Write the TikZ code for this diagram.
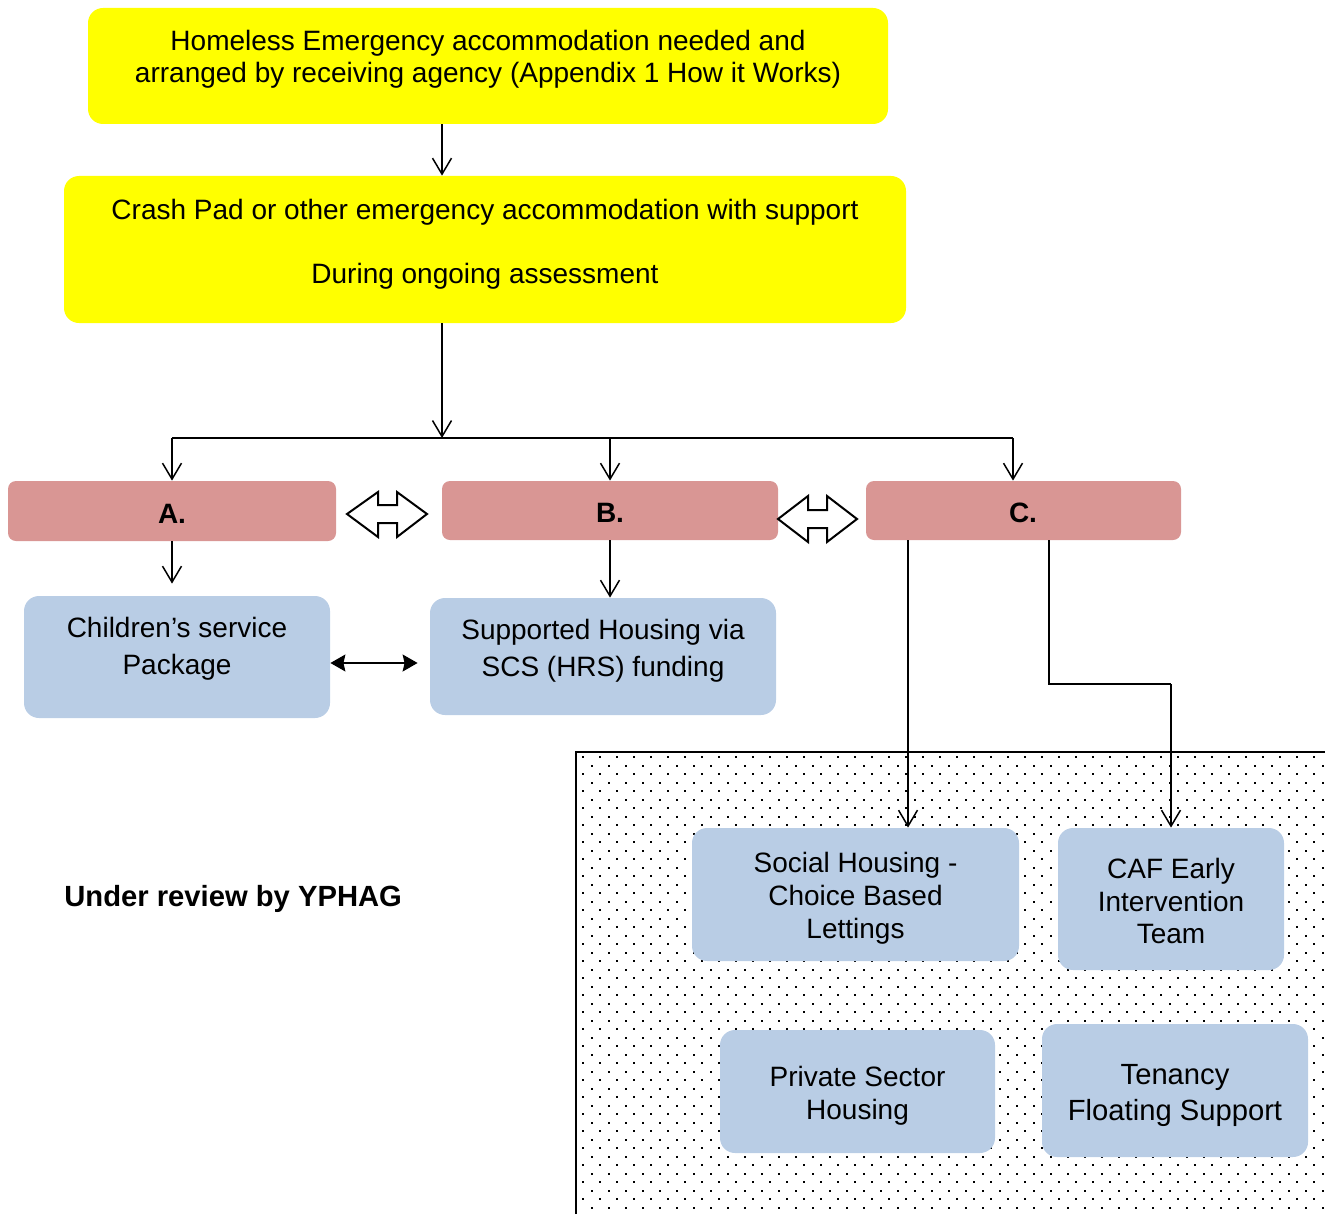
\documentclass[tikz,border=0pt]{standalone}
\usepackage{fontspec}
\setmainfont{Liberation Sans}
\usetikzlibrary{arrows.meta}
\definecolor{ylw}{HTML}{FFFF00}
\definecolor{pnk}{HTML}{D99694}
\definecolor{lblue}{HTML}{B9CDE5}
\begin{document}
\begin{tikzpicture}[x=0.5pt,y=-0.5pt,
  font=\fontsize{14}{16.1}\selectfont,
  ybox/.style={fill=ylw, rounded corners=7.5pt, inner sep=0pt},
  pbox/.style={fill=pnk, rounded corners=4pt, inner sep=0pt},
  bbox/.style={fill=lblue, rounded corners=7.5pt, inner sep=0pt},
  txt/.style={align=center, inner sep=0pt},
  btxt/.style={align=center, inner sep=0pt, font=\fontsize{14}{16.1}\selectfont\bfseries},
  arr/.style={-{Straight Barb[length=8pt,width=9.5pt]}, line width=0.75pt},
  dbl/.style={{Stealth[length=7.5pt,width=8.5pt,inset=1pt]}-{Stealth[length=7.5pt,width=8.5pt,inset=1pt]}, line width=0.75pt},
  blockarrow/.style={draw, fill=white, line width=1pt, line join=miter}]
\useasboundingbox (0,0) rectangle (1325,1214);

% dotted area
\begin{scope}
  \clip (576,752) rectangle (1325,1214);
  \foreach \r in {0,...,54}{
    \pgfmathsetmacro{\yy}{756+8.5*\r}
    \pgfmathsetmacro{\xo}{582+8.5*mod(\r,2)}
    \foreach \c in {0,...,44}{
      \fill ({\xo+17*\c},\yy) rectangle ++(2,2);
    }
  }
\end{scope}
\draw[line width=1pt] (576,1214) -- (576,752) -- (1325,752);

% boxes
\node[ybox, minimum width=400pt, minimum height=58pt] (b1) at (488,66) {};
\node[txt] (b1t) at (488,59) {Homeless Emergency accommodation needed and\\arranged by receiving agency (Appendix 1 How it Works)};
\node[ybox, minimum width=421pt, minimum height=73.5pt] (b2) at (485,249.5) {};
\node[txt] (b2t) at (485,244) {Crash Pad or other emergency accommodation with support\\[16pt]During ongoing assessment};

\node[pbox, minimum width=164pt, minimum height=30pt] (A) at (172,511) {};
\node[btxt] (At) at (172,514) {A.};
\node[pbox, minimum width=168pt, minimum height=29.5pt] (B) at (610,510.5) {};
\node[btxt] (Bt) at (610,512.5) {B.};
\node[pbox, minimum width=157.5pt, minimum height=29.5pt] (C) at (1023.5,510.5) {};
\node[btxt] (Ct) at (1023,512.5) {C.};

\node[bbox, minimum width=153pt, minimum height=61pt] (ch) at (177,657) {};
\node[txt, font=\fontsize{14}{18.5}\selectfont] (cht) at (177,649) {Children’s service\\Package};
\node[bbox, minimum width=173pt, minimum height=58.5pt] (sup) at (603,656.5) {};
\node[txt, font=\fontsize{14}{18.5}\selectfont] (supt) at (603,651) {Supported Housing via\\SCS (HRS) funding};

\node[bbox, minimum width=163.5pt, minimum height=66.5pt] (soc) at (855.5,894.5) {};
\node[txt, font=\fontsize{14}{16.5}\selectfont] (soct) at (855.5,898.5) {Social Housing -\\Choice Based\\Lettings};
\node[bbox, minimum width=113pt, minimum height=71pt] (caf) at (1171,899) {};
\node[txt, font=\fontsize{14}{16.25}\selectfont] (caft) at (1171,901) {CAF Early\\Intervention\\Team};
\node[bbox, minimum width=137.5pt, minimum height=61.5pt] (pri) at (857.5,1091.5) {};
\node[txt, font=\fontsize{14}{16.5}\selectfont] (prit) at (857.5,1095.5) {Private Sector\\Housing};
\node[bbox, minimum width=133pt, minimum height=66.5pt] (ten) at (1175,1090.5) {};
\node[txt, font=\fontsize{14.6}{18}\selectfont] (tent) at (1175,1095) {Tenancy\\Floating Support};

\node[txt, anchor=west, font=\fontsize{14.6}{16.8}\selectfont\bfseries] (rev) at (64,899) {Under review by YPHAG};

% connectors
\coordinate (hub) at (442,438);
\coordinate (cx) at (1013,438);
\coordinate (cL) at (908,541);
\coordinate (cR) at (1049,684);
\draw[arr] (b1.south -| hub) -- (b2.north -| hub);
\draw[arr] (b2.south -| hub) -- (hub);
\draw[line width=0.75pt] (A.north |- hub) -- (cx);
\draw[arr] (A.north |- hub) -- (A.north);
\draw[arr] (B.north |- hub) -- (B.north);
\draw[arr] (cx) -- (C.north -| cx);
\draw[arr] (A.south) -- ([yshift=6pt]A.south |- ch.north);
\draw[arr] (B.south) -- (B.south |- sup.north);
\draw[dbl] ([yshift=-3pt]ch.east) -- ([yshift=-3pt,xshift=-6pt]ch.east -| sup.west);
\draw[arr] (C.south -| cL) -- (soc.north -| cL);
\draw[line width=0.75pt] (C.south -| cR) -- (cR) -- (cR -| caf.north);
\draw[arr] (cR -| caf.north) -- (caf.north);

% block double arrows
\draw[blockarrow] (347,514) -- (378,492) -- (378,505) -- (397,505) -- (397,492) -- (427,514) -- (397,537) -- (397,523) -- (378,523) -- (378,537) -- cycle;
\draw[blockarrow] (778,519) -- (808,496) -- (808,510) -- (827,510) -- (827,496) -- (857,519) -- (827,542) -- (827,528) -- (808,528) -- (808,542) -- cycle;
\end{tikzpicture}
\end{document}
